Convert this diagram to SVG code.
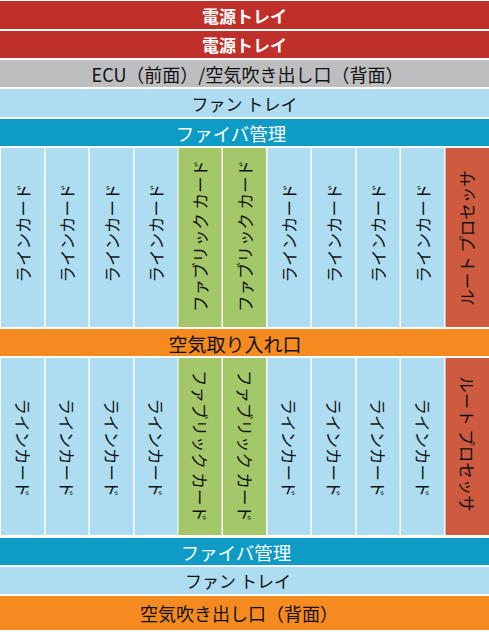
<svg xmlns="http://www.w3.org/2000/svg" width="489" height="632" viewBox="0 0 489 632">
<style>
text{font-family:"Noto Sans CJK JP","Noto Sans",sans-serif;text-anchor:middle;dominant-baseline:central}
.pw{fill:#C0302A}.gr{fill:#BDBEC0}.lb{fill:#AEDDF1}.tl{fill:#0E9BC6}.gn{fill:#A4C76A}.rp{fill:#CE5B3F}.or{fill:#F58A20}
.w{fill:#ffffff}.k{fill:#111111}
.h{font-size:17px}.v{font-size:16.5px}
</style>
<rect width="489" height="632" fill="#ffffff"/>
<g id="power1"><rect class="pw" x="0" y="1" width="489" height="28"/><text class="w h" x="244.5" y="15.5" font-weight="bold">電源トレイ</text></g>
<g id="power2"><rect class="pw" x="0" y="31" width="489" height="27"/><text class="w h" x="244.5" y="44.5" font-weight="bold">電源トレイ</text></g>
<g id="ecu"><rect class="gr" x="0" y="60" width="489" height="27"/><text class="k" font-size="18" x="247.5" y="73.5">ECU（前面）/空気吹き出し口（背面）</text></g>
<g id="fan1"><rect class="lb" x="0" y="89" width="489" height="28"/><text class="k h" x="244.5" y="103">ファン トレイ</text></g>
<g id="fiber1"><rect class="tl" x="0" y="119" width="489" height="27"/><text class="w" font-size="18.5" x="231" y="132.5">ファイバ管理</text></g>

<g id="upper-cards">
<g id="u-lc1"><rect class="lb" x="1" y="148" width="43" height="179"/><text class="k v" transform="translate(22.5,233) rotate(-90)">ラインカード</text></g>
<g id="u-lc2"><rect class="lb" x="45.5" y="148" width="43" height="179"/><text class="k v" transform="translate(67,233) rotate(-90)">ラインカード</text></g>
<g id="u-lc3"><rect class="lb" x="90" y="148" width="43" height="179"/><text class="k v" transform="translate(111.5,233) rotate(-90)">ラインカード</text></g>
<g id="u-lc4"><rect class="lb" x="134.5" y="148" width="43" height="179"/><text class="k v" transform="translate(156,233) rotate(-90)">ラインカード</text></g>
<g id="u-fc1"><rect class="gn" x="178.5" y="148" width="43" height="179"/><text class="k v" transform="translate(200,236) rotate(-90)">ファブリック カード</text></g>
<g id="u-fc2"><rect class="gn" x="223" y="148" width="43" height="179"/><text class="k v" transform="translate(244.5,236) rotate(-90)">ファブリック カード</text></g>
<g id="u-lc5"><rect class="lb" x="267.5" y="148" width="43" height="179"/><text class="k v" transform="translate(289,233) rotate(-90)">ラインカード</text></g>
<g id="u-lc6"><rect class="lb" x="312" y="148" width="43" height="179"/><text class="k v" transform="translate(333.5,233) rotate(-90)">ラインカード</text></g>
<g id="u-lc7"><rect class="lb" x="356.5" y="148" width="43" height="179"/><text class="k v" transform="translate(378,233) rotate(-90)">ラインカード</text></g>
<g id="u-lc8"><rect class="lb" x="401" y="148" width="43" height="179"/><text class="k v" transform="translate(422.5,233) rotate(-90)">ラインカード</text></g>
<g id="u-rp"><rect class="rp" x="445.5" y="148" width="43.5" height="179"/><text class="k v" transform="translate(467,238) rotate(-90)">ルート プロセッサ</text></g>
</g>

<g id="intake"><rect class="or" x="0" y="329" width="489" height="27"/><text class="k" font-size="19" x="235" y="343">空気取り入れ口</text></g>

<g id="lower-cards">
<g id="l-lc1"><rect class="lb" x="1" y="358" width="43" height="177"/><text class="k v" transform="translate(22.5,448) rotate(90)">ラインカード</text></g>
<g id="l-lc2"><rect class="lb" x="45.5" y="358" width="43" height="177"/><text class="k v" transform="translate(67,448) rotate(90)">ラインカード</text></g>
<g id="l-lc3"><rect class="lb" x="90" y="358" width="43" height="177"/><text class="k v" transform="translate(111.5,448) rotate(90)">ラインカード</text></g>
<g id="l-lc4"><rect class="lb" x="134.5" y="358" width="43" height="177"/><text class="k v" transform="translate(156,448) rotate(90)">ラインカード</text></g>
<g id="l-fc1"><rect class="gn" x="178.5" y="358" width="43" height="177"/><text class="k v" transform="translate(200,446) rotate(90)">ファブリック カード</text></g>
<g id="l-fc2"><rect class="gn" x="223" y="358" width="43" height="177"/><text class="k v" transform="translate(244.5,446) rotate(90)">ファブリック カード</text></g>
<g id="l-lc5"><rect class="lb" x="267.5" y="358" width="43" height="177"/><text class="k v" transform="translate(289,448) rotate(90)">ラインカード</text></g>
<g id="l-lc6"><rect class="lb" x="312" y="358" width="43" height="177"/><text class="k v" transform="translate(333.5,448) rotate(90)">ラインカード</text></g>
<g id="l-lc7"><rect class="lb" x="356.5" y="358" width="43" height="177"/><text class="k v" transform="translate(378,448) rotate(90)">ラインカード</text></g>
<g id="l-lc8"><rect class="lb" x="401" y="358" width="43" height="177"/><text class="k v" transform="translate(422.5,448) rotate(90)">ラインカード</text></g>
<g id="l-rp"><rect class="rp" x="445.5" y="358" width="43.5" height="177"/><text class="k v" transform="translate(467,444) rotate(90)">ルート プロセッサ</text></g>
</g>

<g id="fiber2"><rect class="tl" x="0" y="538" width="489" height="27"/><text class="w" font-size="18.5" x="236" y="551.5">ファイバ管理</text></g>
<g id="fan2"><rect class="lb" x="0" y="567" width="489" height="27"/><text class="k h" x="238" y="580.5">ファン トレイ</text></g>
<g id="exhaust"><rect class="or" x="0" y="596" width="489" height="34"/><text class="k" font-size="18" x="239" y="613">空気吹き出し口（背面）</text></g>
</svg>
